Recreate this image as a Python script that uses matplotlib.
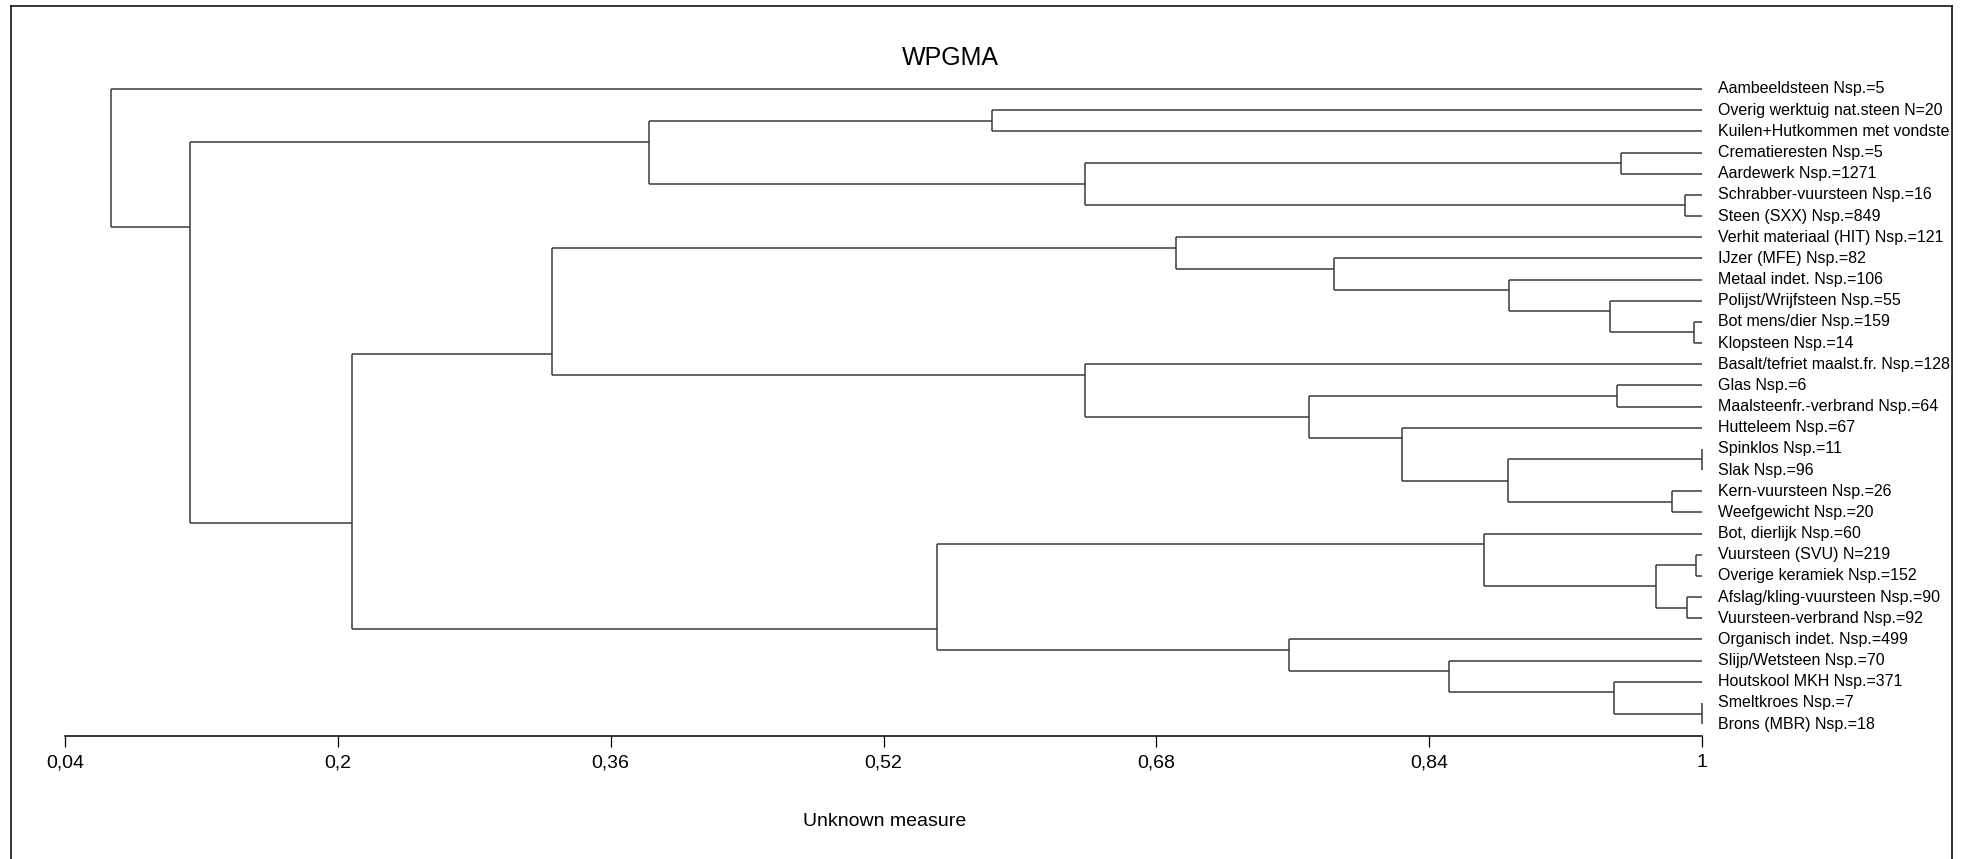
''' WPGMA dendrogram of find categories
drawn by hand from a merge list, matplotlib only '''
import numpy as np
import matplotlib
matplotlib.use('Agg')
from matplotlib import pyplot as plt

plt.rcParams['font.family'] = ['Liberation Sans', 'DejaVu Sans']

# leaf labels, top to bottom
labels = ['Aambeeldsteen Nsp.=5',
          'Overig werktuig nat.steen N=20',
          'Kuilen+Hutkommen met vondste',
          'Crematieresten Nsp.=5',
          'Aardewerk Nsp.=1271',
          'Schrabber-vuursteen Nsp.=16',
          'Steen (SXX) Nsp.=849',
          'Verhit materiaal (HIT) Nsp.=121',
          'IJzer (MFE) Nsp.=82',
          'Metaal indet. Nsp.=106',
          'Polijst/Wrijfsteen Nsp.=55',
          'Bot mens/dier Nsp.=159',
          'Klopsteen Nsp.=14',
          'Basalt/tefriet maalst.fr. Nsp.=128',
          'Glas Nsp.=6',
          'Maalsteenfr.-verbrand Nsp.=64',
          'Hutteleem Nsp.=67',
          'Spinklos Nsp.=11',
          'Slak Nsp.=96',
          'Kern-vuursteen Nsp.=26',
          'Weefgewicht Nsp.=20',
          'Bot, dierlijk Nsp.=60',
          'Vuursteen (SVU) N=219',
          'Overige keramiek Nsp.=152',
          'Afslag/kling-vuursteen Nsp.=90',
          'Vuursteen-verbrand Nsp.=92',
          'Organisch indet. Nsp.=499',
          'Slijp/Wetsteen Nsp.=70',
          'Houtskool MKH Nsp.=371',
          'Smeltkroes Nsp.=7',
          'Brons (MBR) Nsp.=18']

# merges: upper child, lower child, similarity (leaves 0..30, new clusters from 31)
merge_a = [29, 17, 22, 11, 24, 5, 19, 33, 3, 14, 28, 10, 9, 32, 21,
           27, 16, 8, 40, 26, 7, 39, 13, 1, 45, 54, 51, 57, 56, 0]
merge_b = [30, 18, 23, 12, 25, 6, 20, 35, 4, 15, 31, 34, 42, 37, 38,
           41, 44, 43, 47, 46, 48, 36, 49, 2, 50, 52, 53, 55, 58, 59]
merge_h = [1.0, 1.0, 0.9965, 0.9953, 0.9914, 0.9902, 0.9824, 0.9729, 0.9525, 0.9504,
           0.9484, 0.9463, 0.8867, 0.8863, 0.8721, 0.8517, 0.8242, 0.7840, 0.7693, 0.7578,
           0.6914, 0.6384, 0.6384, 0.5834, 0.5514, 0.3822, 0.3256, 0.2083, 0.1134, 0.0668]

tick_values = [0.04, 0.2, 0.36, 0.52, 0.68, 0.84, 1.0]
tick_labels = ['0,04', '0,2', '0,36', '0,52', '0,68', '0,84', '1']

W, H = 1971, 859
fig = plt.figure(figsize=(W/100, H/100), dpi=100)

# frame axes (the black border), data: x = similarity, y = leaf row
fl, ft, fr = 11, 6, 1952
ax = fig.add_axes([fl/W, 0, (fr-fl)/W, (H-ft)/H])
x0_px, x1_px = 65, 1702          # where 0.04 and 1 sit
ppu = (x1_px - x0_px) / 0.96
row0, drow = 89, 21.17
ax.set_xlim(0.04 - (x0_px-fl)/ppu, 0.04 + (fr-x0_px)/ppu)
ax.set_ylim((H-row0)/drow, (ft-row0)/drow)
ax.set_xticks([])
ax.set_yticks([])
ax.spines['bottom'].set_visible(False)
for s in ['top', 'left', 'right']:
    ax.spines[s].set_linewidth(1.1)

lc = '#3a3a3a'
lw = 1.1
n = len(labels)
first = list(range(n))
last = list(range(n))
ypos = [float(i) for i in range(n)]
hgt = [1.0]*n
for a, b, h in zip(merge_a, merge_b, merge_h):
    first.append(first[a])
    last.append(last[b])
    ypos.append((last[a] + first[b]) / 2)
    hgt.append(h)
    ax.plot([h, h], [ypos[a], ypos[b]], color=lc, lw=lw, solid_capstyle='butt')
    ax.plot([h, hgt[a]], [ypos[a], ypos[a]], color=lc, lw=lw, solid_capstyle='butt')
    ax.plot([h, hgt[b]], [ypos[b], ypos[b]], color=lc, lw=lw, solid_capstyle='butt')

# leaf names, clipped by the frame
for i, lab in enumerate(labels):
    ax.text(1.0 + 16/ppu, i, lab, fontsize=11.5, ha='left', va='center', clip_on=True)

# scale ruler
rax = fig.add_axes([x0_px/W, (H-736)/H, (x1_px-x0_px)/W, 0.0001])
rax.set_xlim(0.04, 1.0)
rax.set_xticks(tick_values)
rax.set_xticklabels(tick_labels)
rax.set_yticks([])
rax.patch.set_visible(False)
for s in ['top', 'left', 'right']:
    rax.spines[s].set_visible(False)
rax.spines['bottom'].set_linewidth(1.1)
rax.tick_params(axis='x', direction='out', length=8, width=0.9, labelsize=14, pad=5)

fig.text(950/W, 1-58/H, 'WPGMA', fontsize=18, ha='center', va='center')
fig.text(885/W, 1-822/H, 'Unknown measure', fontsize=14, ha='center', va='center')

plt.savefig('out.png', dpi=100)
